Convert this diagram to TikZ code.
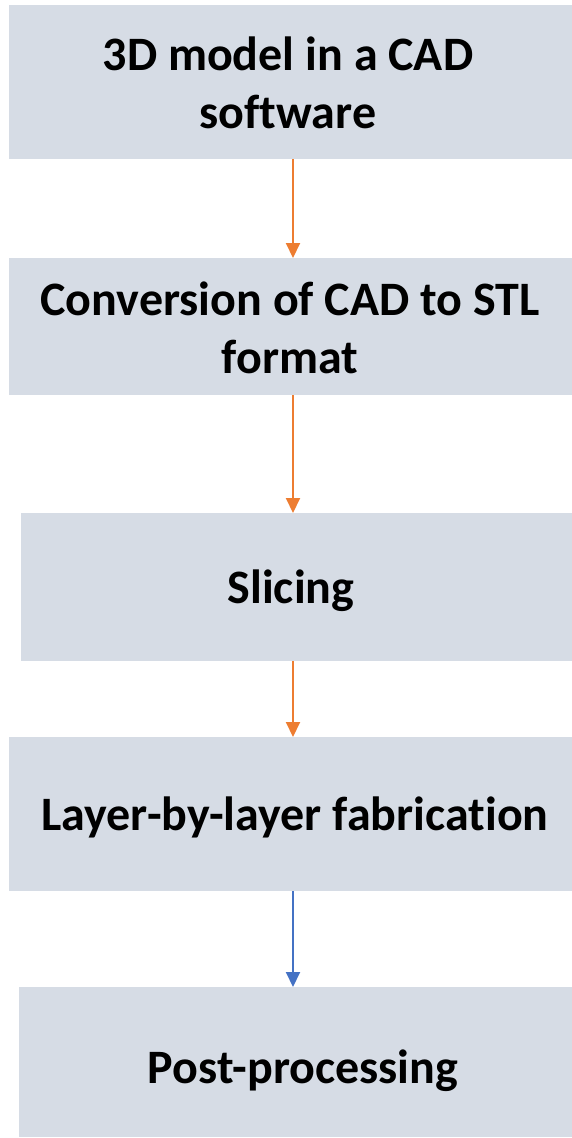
\documentclass[tikz,border=0pt]{standalone}
\usepackage{fontspec}
\setmainfont[Ligatures={NoCommon}]{Carlito}
\usetikzlibrary{arrows.meta}
\definecolor{boxfill}{HTML}{D6DCE5}
\definecolor{arrorange}{HTML}{ED7D31}
\definecolor{arrblue}{HTML}{4472C4}
\tikzset{
  stepbox/.style={rectangle, fill=boxfill, draw=none, inner sep=0pt, anchor=north west},
  lbl/.style={font=\fontsize{48}{58.5}\selectfont\bfseries, align=center, inner sep=0pt, text=black},
  flow/.style={line width=2pt, -{Triangle[width=14pt,length=15pt]}},
}
\begin{document}
\begin{tikzpicture}[x=1pt,y=-1pt]
\useasboundingbox (0,0) rectangle (572,1138);
\node[stepbox, minimum width=563pt, minimum height=154pt] (b1) at (9,5) {};
\node[stepbox, minimum width=563pt, minimum height=137pt] (b2) at (9,258) {};
\node[stepbox, minimum width=551pt, minimum height=148pt] (b3) at (21,513) {};
\node[stepbox, minimum width=563pt, minimum height=154pt] (b4) at (9,737) {};
\node[stepbox, minimum width=553pt, minimum height=150pt] (b5) at (19,987) {};
\node[lbl] (t1) at (288,83) {3D model in a CAD\\software};
\node[lbl] (t2) at (290,328) {Conversion of CAD to STL\\format};
\node[lbl] (t3) at (291,591) {Slicing};
\node[lbl] (t4) at (295,817) {Layer-by-layer fabrication};
\node[lbl] (t5) at (303,1071) {Post-processing};
\coordinate (a1s) at (293,159);
\coordinate (a1e) at (293,258);
\coordinate (a2s) at (293,395);
\coordinate (a2e) at (293,513);
\coordinate (a3s) at (293,661);
\coordinate (a3e) at (293,737);
\coordinate (a4s) at (293,891);
\coordinate (a4e) at (293,987);
\draw[flow, arrorange] (a1s) -- (a1e);
\draw[flow, arrorange] (a2s) -- (a2e);
\draw[flow, arrorange] (a3s) -- (a3e);
\draw[flow, arrblue] (a4s) -- (a4e);
\end{tikzpicture}
\end{document}
